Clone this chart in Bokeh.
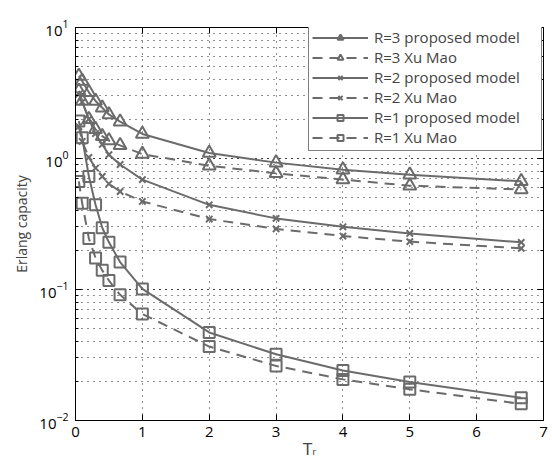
from bokeh.plotting import figure
from bokeh.models import (LinearAxis, LogAxis, Legend, LegendItem,
                          SingleIntervalTicker, Range1d)
from bokeh.embed import file_html
from bokeh.resources import INLINE

# ---- data ----
tr = [0.05, 0.1, 0.2, 0.3, 0.4, 0.5, 0.667, 1, 2, 3, 4, 5, 6.667]
r3_prop = [4.27, 3.9, 3.2, 2.75, 2.44, 2.17, 1.91, 1.54, 1.10, 0.93, 0.82, 0.75, 0.67]
r3_xu = [3.28, 2.75, 1.99, 1.67, 1.48, 1.37, 1.26, 1.08, 0.88, 0.77, 0.69, 0.62, 0.58]
r2_prop = [3.1, 2.7, 2.0, 1.55, 1.28, 1.07, 0.90, 0.69, 0.443, 0.349, 0.301, 0.268, 0.229]
r2_xu = [1.75, 1.35, 1.02, 0.845, 0.73, 0.641, 0.56, 0.47, 0.345, 0.29, 0.256, 0.232, 0.206]
r1_prop = [1.93, 1.44, 0.73, 0.443, 0.296, 0.229, 0.162, 0.101, 0.047, 0.032, 0.0241, 0.0197, 0.0149]
r1_xu = [0.668, 0.455, 0.245, 0.174, 0.14, 0.117, 0.091, 0.065, 0.0367, 0.0261, 0.0206, 0.0173, 0.0134]

labels = ["R=3 proposed model", "R=3 Xu Mao", "R=2 proposed model",
          "R=2 Xu Mao", "R=1 proposed model", "R=1 Xu Mao"]
series = [r3_prop, r3_xu, r2_prop, r2_xu, r1_prop, r1_xu]
markers = ["triangle", "triangle", "x", "x", "square", "square"]
msizes = [13, 13, 9, 9, 11, 11]
dashes = ["solid", "10 7", "solid", "10 7", "solid", "10 7"]

FONT = "Open Sans"
GRAY = "#6b6b6b"

p = figure(width=550, height=464, output_backend="svg", toolbar_location=None,
           y_axis_type="log", x_range=Range1d(0, 7), y_range=Range1d(0.01, 10),
           min_border_left=75, min_border_right=7, min_border_top=27,
           min_border_bottom=44)
p.outline_line_color = "black"
p.outline_line_width = 1

# grids
p.xgrid.ticker = SingleIntervalTicker(interval=1, num_minor_ticks=0)
for g in (p.xgrid, p.ygrid):
    g.grid_line_color = "#222222"
    g.grid_line_dash = "1 5"
    g.grid_line_width = 1
p.ygrid.minor_grid_line_color = "#222222"
p.ygrid.minor_grid_line_dash = "1 5"

# axes
xa = p.xaxis[0]
xa.ticker = SingleIntervalTicker(interval=1, num_minor_ticks=0)
ya = p.yaxis[0]
for ax in (xa, ya):
    ax.major_tick_in = 6
    ax.major_tick_out = 0
    ax.minor_tick_in = 3
    ax.minor_tick_out = 0
    ax.axis_line_color = "black"
    ax.major_tick_line_color = "black"
    ax.minor_tick_line_color = "black"
    ax.major_label_text_font = FONT
    ax.major_label_text_font_size = "15px"
    ax.major_label_text_color = "black"
    ax.axis_label_text_font = FONT
    ax.axis_label_text_font_size = "14px"
    ax.axis_label_text_font_style = "normal"
ya.major_label_standoff = 7
xa.major_label_standoff = 6
ya.axis_label = "Erlang capacity"
ya.axis_label_standoff = 5
xa.axis_label = "Tᵣ"
xa.axis_label_text_font = "DejaVu Sans"
xa.axis_label_text_font_size = "15px"
xa.axis_label_standoff = 1

top = LinearAxis(ticker=SingleIntervalTicker(interval=1, num_minor_ticks=0),
                 major_label_text_font_size="1px", major_label_text_color=None,
                 major_label_standoff=0, major_tick_in=6, major_tick_out=0,
                 minor_tick_in=0, minor_tick_out=0, axis_line_color="black")
right = LogAxis(major_label_text_font_size="1px", major_label_text_color=None,
                major_label_standoff=0, major_tick_in=6, major_tick_out=0,
                minor_tick_in=3, minor_tick_out=0, axis_line_color="black")
p.add_layout(top, "above")
p.add_layout(right, "right")

items = []
for lab, ys, mk, ms, dash in zip(labels, series, markers, msizes, dashes):
    lr = p.line(tr, ys, line_color=GRAY, line_width=2, line_dash=dash)
    sr = p.scatter(tr, ys, marker=mk, size=ms, line_color=GRAY, line_width=2,
                   fill_color=None)
    items.append(LegendItem(label=lab, renderers=[lr, sr]))

legend = Legend(items=items, location=(233, 269), glyph_width=56, glyph_height=15,
                label_text_font=FONT, label_text_font_size="15px",
                label_height=15, label_width=164, spacing=-1, padding=3, margin=0,
                border_line_color="black", border_line_width=1,
                background_fill_alpha=1, label_standoff=6)
p.add_layout(legend, "center")

open("out.html", "w").write(file_html(p, INLINE))
